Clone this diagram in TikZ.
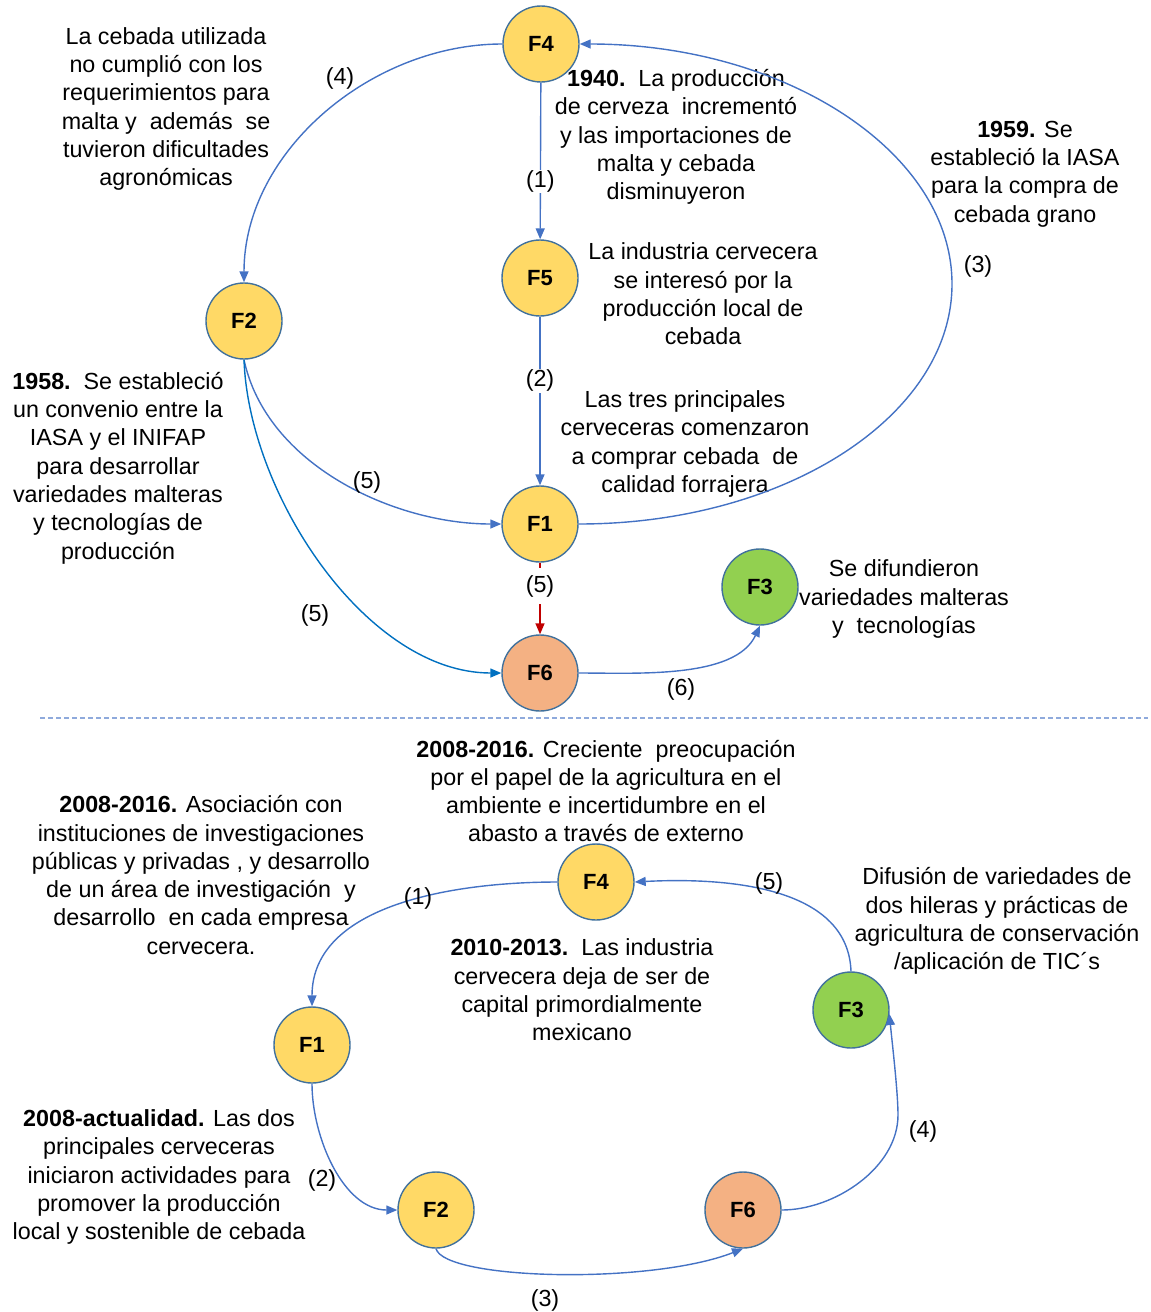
\documentclass[tikz,border=0pt]{standalone}
\usepackage{fontspec}
\setmainfont{Liberation Sans}
\usetikzlibrary{arrows.meta}
\definecolor{fyellow}{HTML}{FFD966}
\definecolor{forange}{HTML}{F4B183}
\definecolor{fgreen}{HTML}{92D050}
\definecolor{fborder}{HTML}{41719C}
\definecolor{flink}{HTML}{4472C4}
\definecolor{flinkb}{HTML}{0070C0}
\definecolor{fred}{HTML}{C00000}
\definecolor{fdash}{HTML}{8FAADC}
\begin{document}
\begin{tikzpicture}[x=1pt,y=-1pt,
  phase/.style={circle,draw=fborder,line width=1.4pt,minimum size=76pt,inner sep=0pt,
    font=\fontsize{22}{26}\selectfont\bfseries},
  yel/.style={phase,fill=fyellow},
  ora/.style={phase,fill=forange},
  gre/.style={phase,fill=fgreen},
  note/.style={align=center,inner sep=0pt,font=\fontsize{23.3}{28.3}\selectfont},
  lbl/.style={inner sep=1pt,font=\fontsize{23.3}{28.3}\selectfont},
  link/.style={draw=flink,line width=1.4pt,-{Triangle[length=11pt,width=9pt]}},
]
\useasboundingbox (0,0) rectangle (1151,1312);

% ---------- upper cycle ----------
\node[yel] (a4) at (541,44) {F4};
\node[yel] (a5) at (540,278) {F5};
\node[yel] (a2) at (244,321) {F2};
\node[yel] (a1) at (540,524) {F1};
\node[ora] (a6) at (540,673) {F6};
\node[gre] (a3) at (760,587) {F3};

\node[note] (t1) at (166,109) {La cebada utilizada\\no cumplió con los\\requerimientos para\\malta y\ \ además\ \ se\\tuvieron dificultades\\agronómicas};
\node[note] (t2) at (676,137) {\textbf{1940.}\ \ La producción\\de cerveza\ \ incrementó\\y las importaciones de\\malta y cebada\\disminuyeron};
\node[note] (t3) at (1025,174) {\textbf{1959.} Se\\estableció la IASA\\para la compra de\\cebada grano};
\node[note] (t4) at (703,294) {La industria cervecera\\se interesó por la\\producción local de\\cebada};
\node[note] (t5) at (118,468) {\textbf{1958.}\ \ Se estableció\\un convenio entre la\\IASA y el INIFAP\\para desarrollar\\variedades malteras\\y tecnologías de\\producción};
\node[note] (t6) at (685,444) {Las tres principales\\cerveceras comenzaron\\a comprar cebada\ \ de\\calidad forrajera};
\node[note] (t7) at (904,599) {Se difundieron\\variedades malteras\\y\ \ tecnologías};

\coordinate (r3a) at (952,284);
\draw[link] (a4) -- node[lbl,fill=white,pos=0.63] {(1)} (a5);
\draw[link] (a5) -- node[lbl,fill=white,pos=0.38] {(2)} (a1);
\draw[link] (a4.west) to[out=180,in=90,looseness=0.95] (a2.north);
\draw[link] (a1.east) .. controls (785,524) and (952,416) .. (r3a)
  .. controls (952,152) and (785,44) .. (a4.east);
\draw[link] (a2.south) to[out=-78,in=180,looseness=0.9] (a1.west);
\draw[link,draw=flinkb] (a2.south) to[out=-88,in=180,looseness=0.85] (a6.west);
\draw[link] (a6.east) to[out=0,in=-115,looseness=0.8] (a3.south);
\draw[draw=fred,line width=1.4pt,-{Triangle[length=11pt,width=9pt]}] (a1.south) --
  node[lbl,fill=white,pos=0.33,minimum height=36pt] {(5)} (a6.north);

\node[lbl] (l4) at (340,78) {(4)};
\node[lbl] (l3) at (978,266) {(3)};
\node[lbl] (l5a) at (367,482) {(5)};
\node[lbl] (l5b) at (315,615) {(5)};
\node[lbl] (l6) at (681,689) {(6)};

% ---------- separator ----------
\coordinate (sepL) at (40,718);
\coordinate (sepR) at (1148,718);
\draw[fdash,line width=1.2pt,dash pattern=on 5pt off 3pt] (sepL) -- (sepR);

% ---------- lower cycle ----------
\node[yel] (b4) at (596,882) {F4};
\node[yel] (b1) at (312,1045) {F1};
\node[yel] (b2) at (436,1210) {F2};
\node[ora] (b6) at (743,1210) {F6};
\node[gre] (b3) at (851,1010) {F3};

\node[note] (u1) at (606,791) {\textbf{2008-2016.} Creciente\ \ preocupación\\por el papel de la agricultura en el\\ambiente e incertidumbre en el\\abasto a través de externo};
\node[note] (u2) at (201,875) {\textbf{2008-2016.} Asociación con\\instituciones de investigaciones\\públicas y privadas , y desarrollo\\de un área de investigación\ \ y\\desarrollo\ \ en cada empresa\\cervecera.};
\node[note] (u3) at (997,921) {Difusión de variedades de\\dos hileras y prácticas de\\agricultura de conservación\\/aplicación de TIC´s};
\node[note] (u4) at (582,990) {\textbf{2010-2013.}\ \ Las industria\\cervecera deja de ser de\\capital primordialmente\\mexicano};
\node[note] (u5) at (159,1177) {\textbf{2008-actualidad.} Las dos\\principales cerveceras\\iniciaron actividades para\\promover la producción\\local y sostenible de cebada};

\coordinate (r4a) at (898,1115);
\draw[link] (b4.west) to[out=180,in=90,looseness=0.95] (b1.north);
\draw[link] (b1.south) to[out=-90,in=180,looseness=0.9] (b2.west);
\draw[link] (b2.south) .. controls (445,1280) and (650,1285) .. (b6.south);
\draw[link] (b6.east) to[out=0,in=-90,looseness=0.9] (r4a) to[out=90,in=-85,looseness=0.6] (b3.-6);
\draw[link] (b3.north) to[out=92,in=3,looseness=0.95] (b4.east);

\node[lbl] (m1) at (418,898) {(1)};
\node[lbl] (m5) at (769,883) {(5)};
\node[lbl] (m2) at (322,1180) {(2)};
\node[lbl] (m4) at (923,1131) {(4)};
\node[lbl] (m3) at (545,1300) {(3)};
\end{tikzpicture}
\end{document}
